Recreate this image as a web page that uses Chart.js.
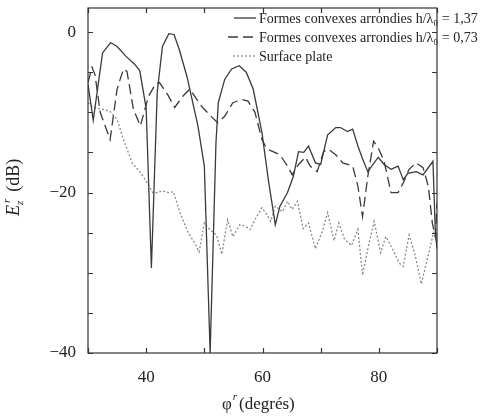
<!DOCTYPE html>
<html>
<head>
<meta charset="utf-8">
<script src="https://cdn.jsdelivr.net/npm/chart.js@4/dist/chart.umd.min.js"></script>
<style>
  html, body { margin: 0; padding: 0; background: #fff; }
  #wrap { width: 480px; height: 418px; }
</style>
</head>
<body>
<div id="wrap"><canvas id="c" width="480" height="418"></canvas></div>
<script>
// ---- data ----
const seriesLabels = [
  'Formes convexes arrondies h/λ₀ = 1,37',
  'Formes convexes arrondies h/λ₀ = 0,73',
  'Surface plate'
];

const solidX = [30,30.9,32.5,33.9,35,36.5,38,38.9,40,40.9,41.9,42.8,43.9,44.8,45.7,47,48.9,50,51,52,52.4,53.5,54.7,56,57.2,58.4,59.9,61,62.2,63,64.3,65.3,66.2,67.1,67.9,69.1,70,71.2,72.6,73.4,74.6,75.5,76.4,77.2,78.1,79.9,80.9,82.1,83.3,84.2,85,86.4,87.6,89.3,89.7,90];
const solidY = [-6.5,-11,-2.6,-1.3,-1.8,-3,-4,-4.8,-9.5,-29.4,-7.5,-1.8,-0.2,-0.3,-2.2,-5.5,-11.7,-16.7,-40,-13.8,-8.8,-5.9,-4.6,-4.2,-5,-7.1,-12.5,-18.4,-24,-21.7,-20,-18,-14.9,-15,-14.2,-16.3,-16.5,-12.8,-11.9,-11.9,-12.4,-12.1,-14.2,-15.8,-17.4,-15.6,-16.5,-17.1,-16.7,-18.4,-17.6,-17.4,-17.8,-16.1,-24.6,-27];

const dashedX = [30,30.7,31.2,32.1,33.8,35,36.1,36.7,37.8,39,40.4,41.6,42.3,43.7,44.9,46.3,47.5,48.7,49.7,51.3,52.3,53.5,54.9,56.5,57.5,58.7,59.9,60.8,61.8,63,64.3,65.1,66.2,67.4,68.2,69.4,70.5,71.3,72.6,73.8,75.5,76.4,77.2,78.1,79.1,80,80.9,82.1,83.3,84.2,85.2,86.4,87.6,88.5,89.2,89.7,90];
const dashedY = [-6.3,-4.4,-5.3,-10,-13.4,-7.1,-4.6,-4.9,-9.6,-11.7,-8,-6.5,-6.3,-7.8,-9.4,-8,-7.1,-8.4,-9.4,-10.6,-11.3,-10.5,-8.8,-8.4,-8.6,-10,-13.4,-14.6,-14.9,-15.3,-16.7,-17.8,-16.5,-15.6,-16.7,-17.4,-14.9,-14.6,-15.3,-16.3,-16.7,-19.2,-23,-18,-13.6,-14.6,-16.1,-20,-20,-18.8,-17.1,-16.3,-16.9,-19.2,-23.8,-25.5,-21.3];

const dottedX = [30,30.9,32.4,33.8,35,36.1,37.6,39,40.2,41.1,41.9,42.8,43.8,44.7,45.7,47.1,48.5,49.1,50,50.9,52.1,53,54,54.9,56.1,57,57.9,58.7,59.9,60.8,61.4,62.2,63.4,64.3,65.1,66,67,67.9,69.1,70.3,71.2,72.3,73.1,74.1,75.3,76.4,77.2,78.2,79.2,80.3,81.2,82.4,83.5,84.2,85.2,86.2,87.3,88.6,89.4,90];
const dottedY = [-8.8,-9.4,-9.6,-9.9,-10.9,-13.4,-16.3,-17.5,-18.8,-20,-20,-19.8,-20,-19.9,-22.3,-24.8,-26.5,-27.4,-23.8,-24.6,-25.3,-27.7,-23.4,-25.5,-24,-24.2,-24.6,-23.4,-21.9,-22.8,-23.6,-21.7,-22.4,-21.1,-22.1,-21.1,-24.5,-23.8,-27,-24.8,-22.5,-26,-23.8,-25.8,-26.6,-24.6,-30.3,-26.7,-23.6,-27.5,-25.5,-27.1,-28.8,-29.2,-25.3,-27.7,-31.4,-27.5,-25,-25.5];

const xLabelled = [40, 60, 80];
const yLabelled = [0, -20, -40];

// ---- build ----
const pts = (xs, ys) => xs.map((v, i) => ({ x: v, y: ys[i] }));
const SERIF = "'Liberation Serif', 'DejaVu Serif', serif";

const styles = [
  { borderColor: '#3a3a3a', borderWidth: 1.3, borderDash: [] },
  { borderColor: '#3a3a3a', borderWidth: 1.3, borderDash: [10, 5] },
  { borderColor: '#8a8a8a', borderWidth: 1.3, borderDash: [2, 2] }
];

const datasets = [pts(solidX, solidY), pts(dashedX, dashedY), pts(dottedX, dottedY)].map((d, i) => ({
  label: seriesLabels[i],
  data: d,
  showLine: true,
  pointRadius: 0,
  tension: 0,
  fill: false,
  ...styles[i]
}));

const decor = {
  id: 'decor',
  afterDraw(chart) {
    const { ctx, chartArea: a, scales: { x, y } } = chart;
    ctx.save();
    ctx.strokeStyle = '#333';
    ctx.lineWidth = 1.2;
    ctx.setLineDash([]);
    ctx.strokeRect(a.left, a.top, a.right - a.left, a.bottom - a.top);
    const L = 5;
    ctx.beginPath();
    x.ticks.forEach(t => {
      const px = Math.round(x.getPixelForValue(t.value)) + 0.5;
      ctx.moveTo(px, a.bottom); ctx.lineTo(px, a.bottom - L);
      ctx.moveTo(px, a.top); ctx.lineTo(px, a.top + L);
    });
    y.ticks.forEach(t => {
      const py = Math.round(y.getPixelForValue(t.value)) + 0.5;
      ctx.moveTo(a.left, py); ctx.lineTo(a.left + L, py);
      ctx.moveTo(a.right, py); ctx.lineTo(a.right - L, py);
    });
    ctx.stroke();

    // legend
    const rows = [
      { y: 18, x0: 234, x1: 256 },
      { y: 37, x0: 228, x1: 256 },
      { y: 56, x0: 233, x1: 256 }
    ];
    ctx.font = "14px " + SERIF;
    ctx.textBaseline = 'middle';
    ctx.textAlign = 'left';
    chart.data.datasets.forEach((ds, i) => {
      const r = rows[i];
      ctx.beginPath();
      ctx.strokeStyle = ds.borderColor;
      ctx.lineWidth = ds.borderWidth;
      ctx.setLineDash(ds.borderDash);
      ctx.moveTo(r.x0, r.y); ctx.lineTo(r.x1, r.y);
      ctx.stroke();
      ctx.fillStyle = '#222';
      ctx.fillText(ds.label, 259, r.y + 1);
    });
    ctx.setLineDash([]);

    // x title: φ^r (degrés)
    ctx.fillStyle = '#222';
    ctx.textBaseline = 'alphabetic';
    let cx = 222, by = 409;
    ctx.font = "17px " + SERIF;
    ctx.fillText('φ', cx, by); cx += ctx.measureText('φ').width + 1;
    ctx.font = "italic 11px " + SERIF;
    ctx.fillText('r', cx, by - 9); cx += ctx.measureText('r').width + 2;
    ctx.font = "17px " + SERIF;
    ctx.fillText('(degrés)', cx, by);

    // y title: E_z^r (dB), rotated
    ctx.save();
    ctx.translate(19, 216);
    ctx.rotate(-Math.PI / 2);
    let lx = 0;
    ctx.font = "italic 18px " + SERIF;
    ctx.fillText('E', lx, 0); lx += ctx.measureText('E').width;
    ctx.font = "italic 11px " + SERIF;
    ctx.fillText('z', lx, 4);
    ctx.fillText('r', lx + 2, -9);
    lx += ctx.measureText('z').width + 9;
    ctx.font = "18px " + SERIF;
    ctx.fillText('(dB)', lx, 0);
    ctx.restore();

    ctx.restore();
  }
};

new Chart(document.getElementById('c'), {
  type: 'scatter',
  data: { datasets },
  options: {
    responsive: false,
    devicePixelRatio: 1,
    animation: false,
    layout: { padding: { top: 8, right: 43, left: 0, bottom: 0 } },
    plugins: { legend: { display: false }, tooltip: { enabled: false } },
    scales: {
      x: {
        type: 'linear', min: 30, max: 90,
        afterFit(s) { s.height = 65; s.paddingLeft = 0; s.paddingRight = 0; },
        grid: { drawOnChartArea: false, drawTicks: false },
        border: { display: false },
        ticks: {
          stepSize: 10, autoSkip: false, maxRotation: 0, padding: 14,
          color: '#222', font: { family: SERIF, size: 17 },
          callback: v => xLabelled.includes(v) ? String(v) : ''
        }
      },
      y: {
        type: 'linear', min: -40, max: 3,
        afterFit(s) { s.width = 88; s.paddingTop = 0; s.paddingBottom = 0; },
        grid: { drawOnChartArea: false, drawTicks: false },
        border: { display: false },
        ticks: {
          stepSize: 5, includeBounds: false, autoSkip: false, padding: 12,
          color: '#222', font: { family: SERIF, size: 17 },
          callback: v => yLabelled.includes(v) ? (v < 0 ? '\u2212' + Math.abs(v) : String(v)) : ''
        }
      }
    }
  },
  plugins: [decor]
});
</script>
</body>
</html>
